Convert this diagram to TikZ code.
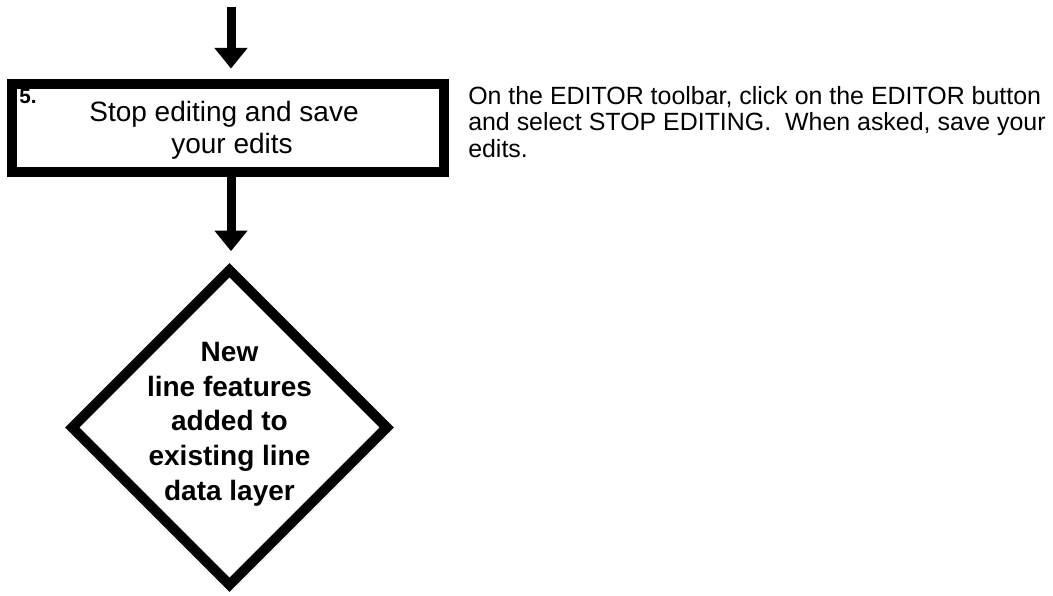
\documentclass[tikz,border=0pt]{standalone}
\usepackage{fontspec}
\setmainfont{Liberation Sans}
\usetikzlibrary{shapes.geometric,arrows.meta}
\begin{document}
\begin{tikzpicture}[x=0.75pt,y=-0.75pt,
  arr/.style={line width=6.75pt,-{Triangle[width=24pt,length=15.5pt]}},
  stepbox/.style={draw,line width=7.2pt,rectangle,minimum width=324pt,minimum height=66pt,inner sep=0pt},
  decision/.style={draw,line width=7.5pt,diamond,minimum width=239pt,minimum height=239pt,inner sep=0pt},
  boxtext/.style={align=center,anchor=base,inner sep=0pt,font=\fontsize{21pt}{24pt}\selectfont},
  dtext/.style={align=center,anchor=base,inner sep=0pt,font=\bfseries\fontsize{21pt}{26pt}\selectfont},
  note/.style={align=left,anchor=base west,inner sep=0pt,font=\fontsize{18.7pt}{19.7pt}\selectfont}]
\useasboundingbox (0,0) rectangle (1053,596);
\coordinate (top) at (231,7);
\node[stepbox] (b) at (228,128) {};
\node[boxtext] (bt) at (232,153) {Stop editing and save\kern12pt\\your edits};
\node[anchor=base west,inner sep=0pt,font=\bfseries\fontsize{15.5pt}{16pt}\selectfont] (n5) at (19,103) {5.};
\node[decision] (d) at (229.5,427.5) {};
\node[dtext] (dt) at (229.5,500) {New\\line features\\added to\\existing line\\data layer};
\node[note] (note) at (468,157) {On the EDITOR toolbar, click on the EDITOR button\\and select STOP EDITING.\ \ When asked, save your\\edits.};
\draw[arr,shorten >=8pt] (top) -- (top |- b.north);
\draw[arr,shorten >=9pt] (top |- b.south) -- (top |- d.north);
\end{tikzpicture}
\end{document}
